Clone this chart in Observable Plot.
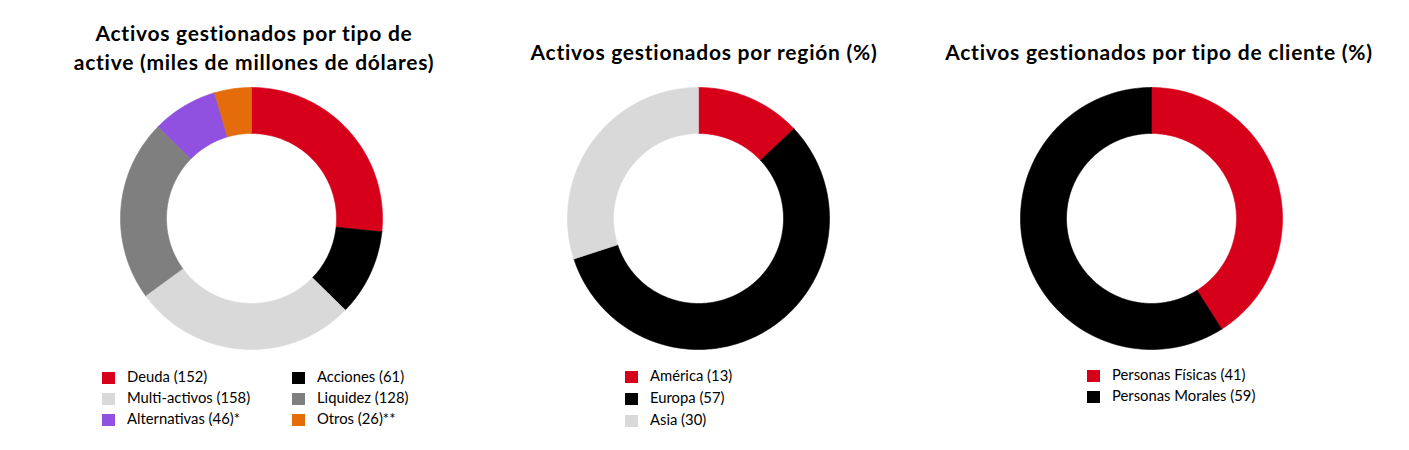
<!DOCTYPE html>
<html><head><meta charset="utf-8">
<script src="https://cdn.jsdelivr.net/npm/d3@7"></script>
<script src="https://cdn.jsdelivr.net/npm/@observablehq/plot@0.6"></script>
<style>
body{margin:0;background:#fff;}
#root{position:relative;width:1409px;height:450px;font-family:Lato,"Open Sans",sans-serif;color:#000;}
.title{position:absolute;font-weight:700;font-size:21px;letter-spacing:0.75px;line-height:29px;text-align:center;white-space:nowrap;transform:translateX(-50%);}
.chart{position:absolute;}
.leg{position:absolute;font-size:14.8px;line-height:15px;white-space:nowrap;}
.sw{position:absolute;width:13px;height:12px;}
.lt{position:absolute;top:-3px;}
</style>
</head><body>
<div id="root"></div>
<script>
// ---- data ----
const assetCategories = ["Deuda", "Acciones", "Multi-activos", "Liquidez", "Alternativas", "Otros"];
const assetValues = [152, 61, 158, 128, 46, 26];
const assetNotes = ["", "", "", "", "*", "**"];
const assetColors = ["#D7001A", "#000000", "#D9D9D9", "#7F7F7F", "#9151E0", "#E46C0A"];

const regionCategories = ["América", "Europa", "Asia"];
const regionValues = [13, 57, 30];
const regionColors = ["#D7001A", "#000000", "#D9D9D9"];

const clientCategories = ["Personas Físicas", "Personas Morales"];
const clientValues = [41, 59];
const clientColors = ["#D7001A", "#000000"];

const titles = [
  ["Activos gestionados por tipo de", "active (miles de millones de dólares)"],
  ["Activos gestionados por región (%)"],
  ["Activos gestionados por tipo de cliente (%)"]
];

// ---- layout ----
const root = document.getElementById("root");
const R = 131, r = 85, HALF = 132, CY = 218;

function donut(cats, vals, colors) {
  const data = cats.map((c, i) => ({cat: c, value: vals[i]}));
  const arcs = d3.pie().sort(null).value(d => d.value)(data);
  const pts = [];
  for (const a of arcs) {
    const n = Math.max(4, Math.ceil((a.endAngle - a.startAngle) * 60));
    const ring = [];
    for (let k = 0; k <= n; k++) {
      const t = a.startAngle + (a.endAngle - a.startAngle) * k / n;
      ring.push({cat: a.data.cat, x: R * Math.sin(t), y: R * Math.cos(t)});
    }
    for (let k = n; k >= 0; k--) {
      const t = a.startAngle + (a.endAngle - a.startAngle) * k / n;
      ring.push({cat: a.data.cat, x: r * Math.sin(t), y: r * Math.cos(t)});
    }
    ring.push(ring[0]);
    pts.push(...ring);
  }
  return Plot.plot({
    width: 2 * HALF, height: 2 * HALF, margin: 0,
    x: {domain: [-HALF, HALF], axis: null},
    y: {domain: [-HALF, HALF], axis: null},
    color: {domain: cats, range: colors},
    marks: [
      Plot.line(pts, {x: "x", y: "y", z: "cat", fill: "cat", stroke: "cat", strokeWidth: 0.6, curve: "linear-closed"})
    ]
  });
}

function place(el, left, top) {
  el.style.left = left + "px"; el.style.top = top + "px";
  root.appendChild(el);
}

function addTitle(lines, cx, top) {
  const d = document.createElement("div");
  d.className = "title";
  d.innerHTML = lines.map(l => `<div>${l}</div>`).join("");
  place(d, cx, top);
}

function addLegend(label, color, left, top) {
  const d = document.createElement("div");
  d.className = "leg";
  const sw = document.createElement("div");
  sw.className = "sw"; sw.style.background = color; sw.style.left = "0px"; sw.style.top = "0px";
  const t = document.createElement("div");
  t.className = "lt"; t.textContent = label; t.style.left = "25px";
  d.appendChild(sw); d.appendChild(t);
  place(d, left, top);
}

const centers = [251, 698, 1151];
const titleCenters = [254, 704, 1159];

// chart 1
addTitle(titles[0], titleCenters[0], 18);
const c1 = donut(assetCategories, assetValues, assetColors);
c1.classList.add("chart"); place(c1, centers[0] - HALF, CY - HALF);
const lab1 = assetCategories.map((c, i) => `${c} (${assetValues[i]})${assetNotes[i]}`);
const order1 = [[0, 2, 4], [1, 3, 5]];
const colX1 = [102, 292];
order1.forEach((col, ci) => col.forEach((idx, ri) => addLegend(lab1[idx], assetColors[idx], colX1[ci], 372 + ri * 21)));

// chart 2
addTitle(titles[1], titleCenters[1], 37);
const c2 = donut(regionCategories, regionValues, regionColors);
c2.classList.add("chart"); place(c2, centers[1] - HALF, CY - HALF);
regionCategories.forEach((c, i) => addLegend(`${c} (${regionValues[i]})`, regionColors[i], 625, 371 + i * 22));

// chart 3
addTitle(titles[2], titleCenters[2], 37);
const c3 = donut(clientCategories, clientValues, clientColors);
c3.classList.add("chart"); place(c3, centers[2] - HALF, CY - HALF);
clientCategories.forEach((c, i) => addLegend(`${c} (${clientValues[i]})`, clientColors[i], 1087, 370 + i * 21));
</script>
</body></html>
